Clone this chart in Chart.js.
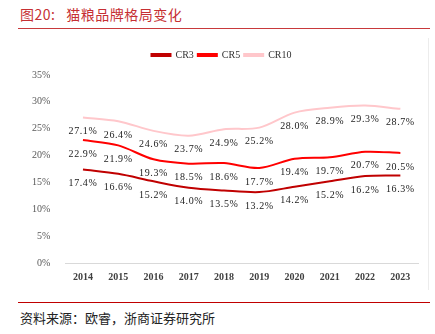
<!DOCTYPE html>
<html>
<head>
<meta charset="utf-8">
<script src="https://cdn.jsdelivr.net/npm/chart.js@4"></script>
<style>
  body { margin: 0; width: 435px; height: 334px; background: #fff; position: relative; overflow: hidden; }
  #title { position: absolute; left: 20px; top: 4px; font: 14px "Noto Sans CJK SC", sans-serif; letter-spacing: 0.5px; color: #c62f33; white-space: pre; }
  #rule1 { position: absolute; left: 18px; top: 28px; width: 412px; height: 0; border-top: 1.5px solid #c8393b; }
  #rule2 { position: absolute; left: 18px; top: 302px; width: 412px; height: 0; border-top: 1.5px solid #c00000; }
  #edge { position: absolute; left: 428px; top: 38px; width: 0; height: 252px; border-left: 1px solid #ececec; }
  #source { position: absolute; left: 20px; top: 308px; font: 13px "Noto Sans CJK SC", sans-serif; color: #222; }
  #wrap { position: absolute; left: 0; top: 38px; width: 428px; height: 245px; }
</style>
</head>
<body>
<div id="title">图20:   猫粮品牌格局变化</div>
<div id="rule1"></div>
<div id="edge"></div>
<div id="wrap"><canvas id="chart"></canvas></div>
<div id="rule2"></div>
<div id="source">资料来源：欧睿，浙商证券研究所</div>
<script>
const years = ['2014', '2015', '2016', '2017', '2018', '2019', '2020', '2021', '2022', '2023'];
const cr3 = [17.4, 16.6, 15.2, 14.0, 13.5, 13.2, 14.2, 15.2, 16.2, 16.3];
const cr5 = [22.9, 21.9, 19.3, 18.5, 18.6, 17.7, 19.4, 19.7, 20.7, 20.5];
const cr10 = [27.1, 26.4, 24.6, 23.7, 24.9, 25.2, 28.0, 28.9, 29.3, 28.7];

// labels under each point
const valueLabels = {
    id: 'valueLabels',
    afterDatasetsDraw(chart) {
        const ctx = chart.ctx;
        ctx.save();
        ctx.font = '10px "Liberation Serif"';
        ctx.letterSpacing = '0.6px';
        ctx.fillStyle = '#222';
        ctx.textAlign = 'center';
        ctx.textBaseline = 'middle';
        chart.data.datasets.forEach((ds, i) => {
            chart.getDatasetMeta(i).data.forEach((pt, j) => {
                ctx.fillText(ds.data[j].toFixed(1) + '%', pt.x, pt.y + 14);
            });
        });
        ctx.restore();
    }
};

// a bit more room under the legend
const legendGap = {
    id: 'legendGap',
    afterInit(chart) {
        const legend = chart.legend;
        const fit = legend.fit;
        legend.fit = function () {
            fit.call(legend);
            legend.height += 5;
        };
    }
};

function line(label, data, color) {
    return {
        label: label,
        data: data,
        borderColor: color,
        backgroundColor: color,
        borderWidth: 2,
        pointRadius: 0,
        tension: 0.3
    };
}

new Chart(document.getElementById('chart'), {
    type: 'line',
    data: {
        labels: years,
        datasets: [
            line('CR3', cr3, '#c00000'),
            line('CR5', cr5, '#ff0000'),
            line('CR10', cr10, '#ffc7cb')
        ]
    },
    options: {
        responsive: true,
        maintainAspectRatio: false,
        animation: false,
        layout: { padding: { left: 25, right: 10, top: 8, bottom: 0 } },
        plugins: {
            legend: {
                labels: {
                    boxWidth: 19,
                    boxHeight: 2,
                    padding: 4,
                    color: '#333',
                    font: { family: 'Liberation Serif', size: 10 }
                }
            },
            tooltip: { enabled: false }
        },
        scales: {
            x: {
                offset: true,
                grid: { display: false },
                border: { color: '#d9d9d9' },
                ticks: { color: '#404040', font: { family: 'Liberation Serif', size: 10, weight: 'bold' }, padding: 0 }
            },
            y: {
                min: 0,
                max: 35,
                grid: { display: false },
                border: { display: false },
                ticks: { stepSize: 5, color: '#595959', font: { family: 'Liberation Serif', size: 10 }, padding: 7, callback: (v) => v + '%' }
            }
        }
    },
    plugins: [valueLabels, legendGap]
});
</script>
</body>
</html>
